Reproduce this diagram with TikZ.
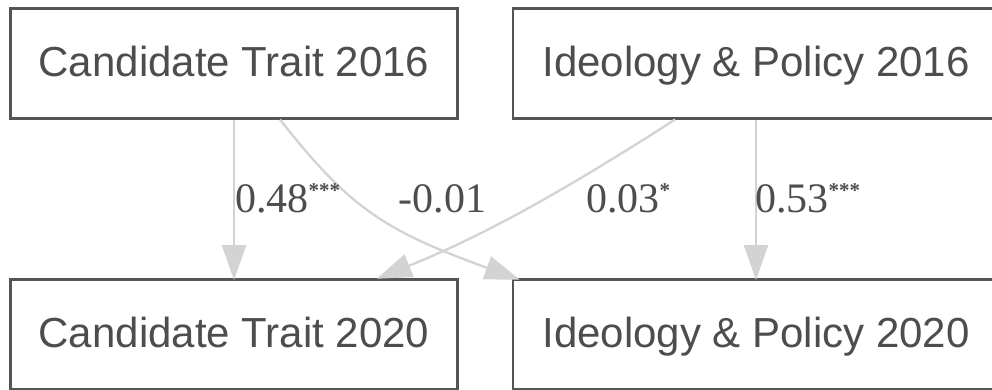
\documentclass[tikz,border=0pt]{standalone}
\usepackage{fontspec}
\setmainfont{Liberation Serif}
\newfontfamily\boxfont{Liberation Sans}
\usetikzlibrary{arrows.meta}
\definecolor{bordergray}{HTML}{555555}
\definecolor{textgray}{HTML}{4D4D4D}
\definecolor{edgegray}{HTML}{D3D3D3}
\newcommand\sigstars[1]{{\fontsize{21}{21}\bfseries\selectfont\raisebox{14.5pt}{#1}}}
\begin{document}
\begin{tikzpicture}[x=1pt,y=-1pt,
  box/.style={draw=bordergray, line width=2.5pt, inner sep=0pt, text=textgray,
    font=\boxfont\fontsize{42}{50}\selectfont, text height=30pt, text depth=4.6pt,
    minimum height=110pt},
  edge/.style={draw=edgegray, line width=2.3pt, -{Triangle[length=35pt,width=24pt]}},
  lbl/.style={anchor=base west, inner sep=0pt, text=textgray,
    font=\fontsize{42}{50}\selectfont}
]
\useasboundingbox (0,0) rectangle (992,389);
\clip (0,0) rectangle (992,389);
\fill[white] (0,0) rectangle (992,389);

\node[box, minimum width=446.6pt] (ct16) at (234,63.3) {Candidate Trait 2016};
\node[box, minimum width=486pt] (ip16) at (756,63.3) {Ideology \& Policy 2016};
\node[box, minimum width=446.6pt] (ct20) at (234,334.3) {Candidate Trait 2020};
\node[box, minimum width=486pt] (ip20) at (756,334.3) {Ideology \& Policy 2020};

\draw[edge] (ct16.south) -- ([yshift=-2pt]ct20.north);
\draw[edge] (ip16.south) -- ([yshift=-2pt]ip20.north);
\draw[edge] ([xshift=46pt]ct16.south) .. controls +(70,89) and +(-134.9,-49.1) .. ([xshift=8pt,yshift=-1.7pt]ip20.north west);
\draw[edge] ([xshift=-81pt]ip16.south) .. controls +(-129.4,83.2) and +(94.6,-38.2) .. ([xshift=142.7pt,yshift=-0.7pt]ct20.north);

\node[lbl] (l1) at (235,212) {0.48\sigstars{***}};
\node[lbl] (l2) at (398.5,212) {-0.01};
\node[lbl] (l3) at (586,212) {0.03\sigstars{*}};
\node[lbl] (l4) at (755,212) {0.53\sigstars{***}};
\end{tikzpicture}
\end{document}
